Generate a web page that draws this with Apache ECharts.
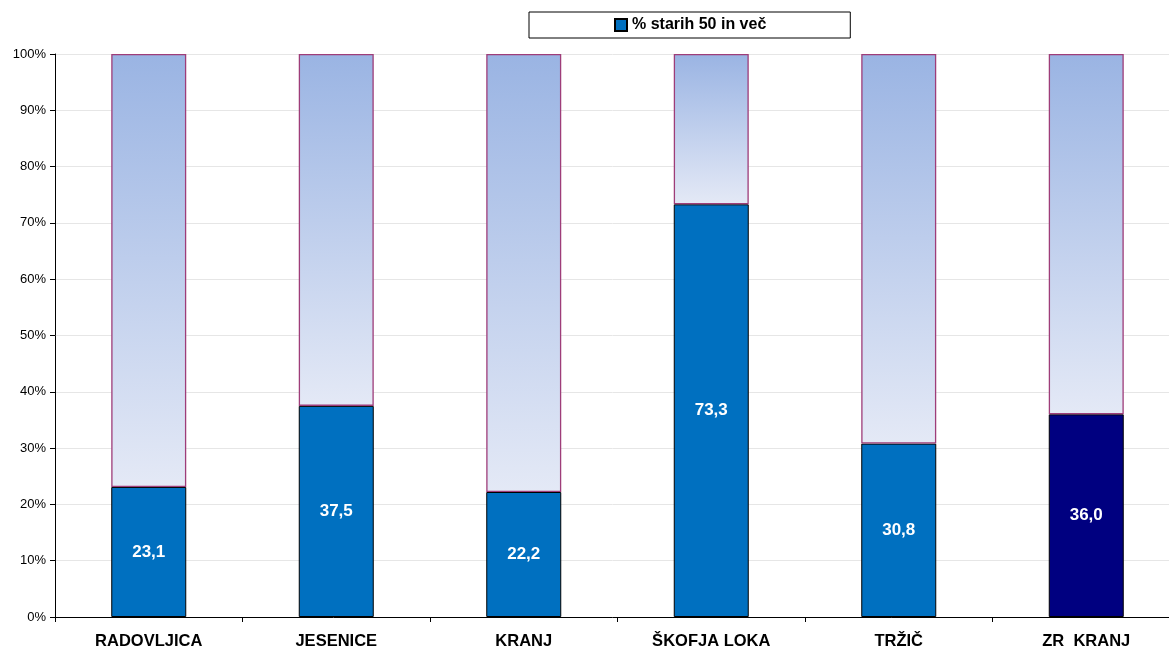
<!DOCTYPE html>
<html><head><meta charset="utf-8">
<script src="https://cdn.jsdelivr.net/npm/echarts@6/dist/echarts.min.js"></script>
<style>html,body{margin:0;padding:0;background:#fff}#c{width:1169px;height:650px}</style>
</head><body><div id="c"></div>
<script>
const categories = ['RADOVLJICA','JESENICE','KRANJ','ŠKOFJA LOKA','TRŽIČ','ZR  KRANJ'];
const share50 = [23.1, 37.5, 22.2, 73.3, 30.8, 36.0];
const yTicks = [0,10,20,30,40,50,60,70,80,90,100];
const rest = share50.map(v => +(100 - v).toFixed(1));
const chart = echarts.init(document.getElementById('c'));
const FONT = '"Liberation Sans", Arial, sans-serif';
chart.setOption({
  animation:false,
  legend:{
    data:[{name:'% starih 50 in več', icon:'rect'}], top:12, left:529,
    padding:[5,84,5,85], borderColor:'#000', borderWidth:1,
    itemWidth:12, itemHeight:12, itemGap:6,
    textStyle:{fontFamily:FONT, fontWeight:'bold', fontSize:16, color:'#000'}
  },
  grid:{left:55, width:1125, top:54, height:563, containLabel:false, outerBoundsMode:'none'},
  xAxis:{
    type:'category', data:categories,
    axisLine:{lineStyle:{color:'#000'}},
    axisTick:{show:true, length:5, lineStyle:{color:'#000'}},
    axisLabel:{fontFamily:FONT, fontWeight:'bold', fontSize:16.5, color:'#000', margin:16}
  },
  yAxis:{
    type:'value', min:0, max:100, interval:10,
    axisLine:{show:true, lineStyle:{color:'#000'}},
    axisTick:{show:true, length:5, lineStyle:{color:'#000'}},
    splitLine:{lineStyle:{color:'#e6e6e6'}},
    axisLabel:{fontFamily:FONT, fontSize:13, color:'#000', margin:9,
      formatter:v => yTicks.includes(v) ? v + '%' : ''}
  },
  series:[
    {
      name:'% starih 50 in več', type:'bar', stack:'s', barWidth:75,
      data:share50.map((v,i)=>({value:v, itemStyle:{color: i===5 ? '#000080' : '#0070C0'}})),
      itemStyle:{color:'#0070C0', borderColor:'#000', borderWidth:1},
      label:{show:true, position:'inside', color:'#fff', fontFamily:FONT, fontWeight:'bold', fontSize:17,
        formatter:p => p.value.toFixed(1).replace('.',',')}
    },
    {
      name:'rest', type:'bar', stack:'s', barWidth:75,
      data:rest,
      itemStyle:{
        color:new echarts.graphic.LinearGradient(0,0,0,1,[{offset:0,color:'#9AB4E3'},{offset:1,color:'#E4E9F6'}]),
        borderColor:'#9E3D79', borderWidth:1.3
      }
    }
  ]
});
</script></body></html>
